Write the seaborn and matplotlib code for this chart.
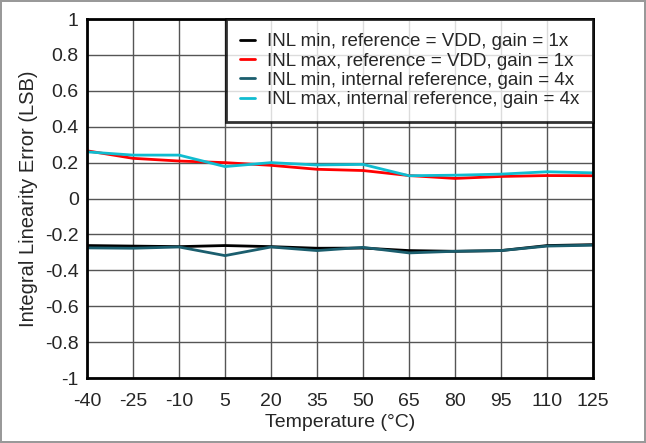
import pandas as pd
import numpy as np
import matplotlib
matplotlib.use("Agg")
import matplotlib.pyplot as plt
import seaborn as sns

temps = [-40, -25, -10, 5, 20, 35, 50, 65, 80, 95, 110, 125]
inl_min_vdd = [-0.262, -0.265, -0.268, -0.262, -0.268, -0.277, -0.276, -0.29, -0.294, -0.29, -0.262, -0.257]
inl_max_vdd = [0.266, 0.224, 0.209, 0.200, 0.185, 0.163, 0.156, 0.128, 0.112, 0.123, 0.128, 0.127]
inl_min_int = [-0.275, -0.277, -0.27, -0.318, -0.27, -0.29, -0.272, -0.303, -0.294, -0.29, -0.265, -0.26]
inl_max_int = [0.26, 0.242, 0.242, 0.178, 0.200, 0.187, 0.190, 0.127, 0.130, 0.136, 0.149, 0.143]

labels = ["INL min, reference = VDD, gain = 1x",
          "INL max, reference = VDD, gain = 1x",
          "INL min, internal reference, gain = 4x",
          "INL max, internal reference, gain = 4x"]
colors = ["#000000", "#ff0000", "#1b5e6e", "#10bcd0"]

rows = []
for lab, vals in zip(labels, [inl_min_vdd, inl_max_vdd, inl_min_int, inl_max_int]):
    for t, v in zip(temps, vals):
        rows.append({"temp": t, "inl": v, "series": lab})
df = pd.DataFrame(rows)

sns.set_style("white")
plt.rcParams['font.family'] = ['Liberation Sans', 'DejaVu Sans']

fig = plt.figure(figsize=(6.46, 4.43), dpi=100)
fig.patch.set_edgecolor("#999999")
fig.patch.set_linewidth(1.5)
ax = fig.add_axes([0.1347, 0.1467, 0.7833, 0.8103])

sns.lineplot(data=df, x="temp", y="inl", hue="series", hue_order=labels,
             palette=colors, linewidth=2, ax=ax)

ax.set_xlim(-40, 125)
ax.set_ylim(-1, 1)
ax.set_xticks(temps)
ax.set_xticklabels([str(t) for t in temps])
yt = np.round(np.arange(-1, 1.01, 0.2), 1)
ax.set_yticks(yt)
ax.set_yticklabels(["%g" % v if abs(v) > 1e-9 else "0" for v in yt])
ax.grid(True, color="#555555", linewidth=1)
ax.tick_params(length=0, labelsize=14, pad=6)
ax.tick_params(axis="x", pad=11)
for s in ax.spines.values():
    s.set_linewidth(2)
    s.set_color("black")
ax.set_xlabel("Temperature (°C)", fontsize=14, labelpad=3)
ax.set_ylabel("Integral Linearity Error (LSB)", fontsize=14.5, labelpad=5)

leg = ax.legend(loc="upper right", fontsize=13.5, frameon=True, fancybox=False,
                borderaxespad=0, handlelength=0.8, handletextpad=0.6,
                labelspacing=0.12, borderpad=0.75)
leg.get_frame().set_edgecolor("black")
leg.get_frame().set_linewidth(2)

fig.savefig("out.png", dpi=100, edgecolor=fig.get_edgecolor())
